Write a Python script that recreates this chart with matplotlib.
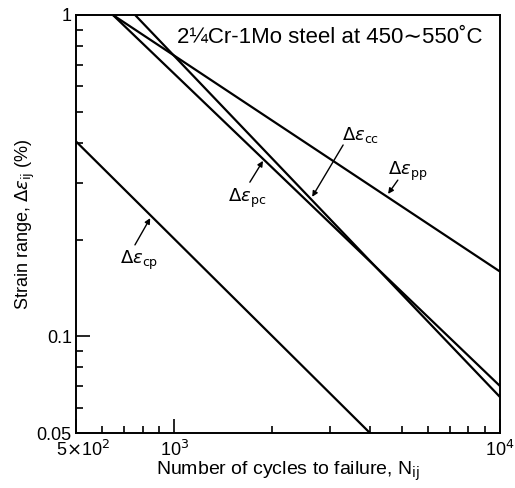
import matplotlib
matplotlib.use("Agg")
import matplotlib.pyplot as plt
import matplotlib.transforms as mtrans
from matplotlib.ticker import FixedLocator, NullFormatter

plt.rcParams['font.family'] = ['Liberation Sans', 'DejaVu Sans']
plt.rcParams['mathtext.fontset'] = 'dejavusans'

# end points of the four strain-life lines (cycles, strain range %)
n_pp = [649, 10000]
e_pp = [1.0, 0.159]
n_pc = [649, 10000]
e_pc = [1.0, 0.070]
n_cc = [759, 10000]
e_cc = [1.0, 0.0647]
n_cp = [500, 3990]
e_cp = [0.404, 0.05]

x_ticks = [500, 1000, 10000]
x_labels = ['5$\\times$10$^2$', '10$^3$', '10$^4$']
y_ticks = [0.05, 0.1, 1]
y_labels = ['0.05', '0.1', '1']

fig = plt.figure(figsize=(5.15, 4.88), dpi=100)
ax = fig.add_axes([0.1476, 0.1127, 0.8233, 0.8566])

for n, e in [(n_pp, e_pp), (n_pc, e_pc), (n_cc, e_cc), (n_cp, e_cp)]:
    ax.plot(n, e, color='black', lw=1.6, solid_capstyle='butt')

ax.set_xscale('log')
ax.set_yscale('log')
ax.set_xlim(500, 10000)
ax.set_ylim(0.05, 1)

ax.xaxis.set_major_locator(FixedLocator(x_ticks))
ax.set_xticklabels(x_labels)
ax.xaxis.set_minor_locator(FixedLocator([600, 700, 800, 900] + list(range(2000, 10000, 1000))))
ax.xaxis.set_minor_formatter(NullFormatter())
ax.yaxis.set_major_locator(FixedLocator(y_ticks))
ax.set_yticklabels(y_labels)
ax.yaxis.set_minor_locator(FixedLocator([0.06, 0.07, 0.08, 0.09, 0.2, 0.3, 0.4, 0.5, 0.6, 0.7, 0.8, 0.9]))
ax.yaxis.set_minor_formatter(NullFormatter())

ax.tick_params(which='both', direction='in', top=False, right=False, width=1.2, labelsize=13)
ax.tick_params(axis='x', pad=5)
ax.tick_params(axis='y', pad=3)
ax.tick_params(which='major', length=10)
ax.tick_params(which='minor', length=5)
for s in ax.spines.values():
    s.set_linewidth(1.4)

# nudge the first x label right, as in the original
lbl = ax.get_xticklabels()[0]
lbl.set_transform(lbl.get_transform() + mtrans.ScaledTranslation(7 / 100, 0, fig.dpi_scale_trans))

ax.set_xlabel('Number of cycles to failure, N$_{\\rm ij}$', fontsize=14, va='center')
ax.xaxis.set_label_coords(0.5, -0.092)
ax.set_ylabel('Strain range, $\\mathit{\\Delta\\varepsilon}_{\\rm ij}$ (%)', fontsize=13, labelpad=0)

ax.text(0.238, 0.947, '2\u00bcCr-1Mo steel at 450\u223c550\u02daC', transform=ax.transAxes,
        fontsize=16, ha='left', va='center')

# (subscript, text centre, arrow tail, arrow tip) in axes fraction
labels = [
    ('pc', (0.403, 0.562), (0.410, 0.600), (0.441, 0.651)),
    ('cc', (0.672, 0.713), (0.630, 0.689), (0.557, 0.565)),
    ('pp', (0.783, 0.627), (0.759, 0.605), (0.736, 0.572)),
    ('cp', (0.148, 0.413), (0.139, 0.450), (0.175, 0.514)),
]
for sub, txt, tail, tip in labels:
    ax.text(txt[0], txt[1], '$\\mathit{\\Delta\\varepsilon}_{\\rm %s}$' % sub,
            transform=ax.transAxes, fontsize=13, ha='center', va='center')
    ax.annotate('', xy=tip, xytext=tail,
                xycoords='axes fraction', textcoords='axes fraction',
                arrowprops=dict(arrowstyle='-|>', color='black', lw=1.0,
                                mutation_scale=8, shrinkA=0, shrinkB=0))

fig.savefig('out.png', dpi=100)
